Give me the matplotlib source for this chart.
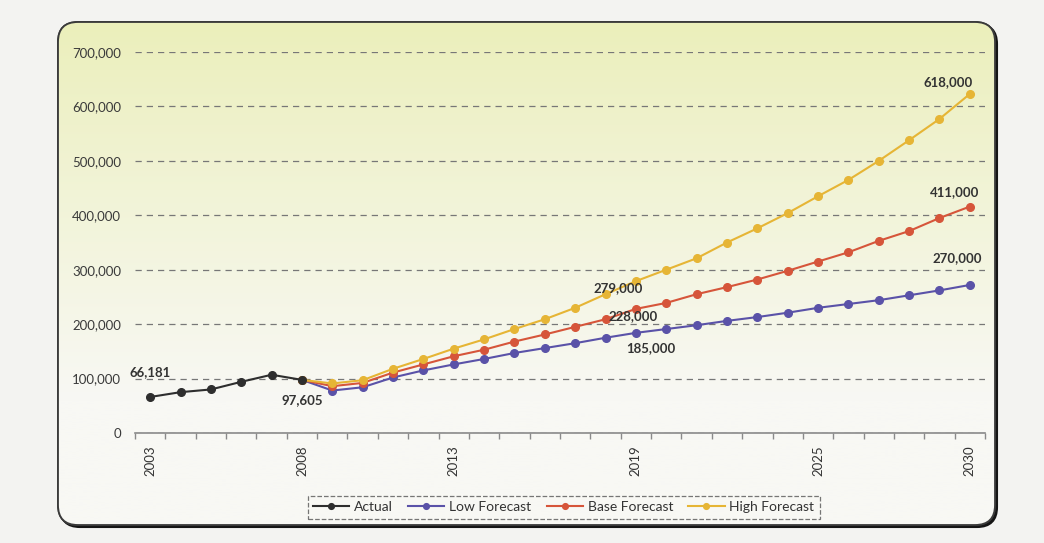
import matplotlib.pyplot as plt
import numpy as np
from matplotlib.patches import FancyBboxPatch

plt.rcParams['font.family'] = ['Lato', 'DejaVu Sans']

years = list(range(2003, 2031))
actual = [66181, 75000, 80000, 94000, 107000, 97605]
# forecasts 2009-2030, drawn on from the last actual point
low = [78000, 84000, 102000, 115000, 126000, 136000, 147000, 156000, 165000, 175000, 184000,
       191000, 198000, 206000, 213000, 221000, 230000, 237000, 244000, 253000, 262000, 272000]
base = [86000, 92000, 111000, 126000, 141000, 153000, 168000, 181000, 195000, 209000, 228000,
        239000, 255000, 268000, 282000, 298000, 315000, 332000, 353000, 371000, 395000, 416000]
high = [91000, 97000, 118000, 136000, 155000, 172000, 191000, 209000, 230000, 255000, 279000,
        300000, 321000, 350000, 376000, 404000, 435000, 465000, 500000, 538000, 577000, 623000]
labelled_years = [2003, 2008, 2013, 2019, 2025, 2030]

colors = {'Actual': '#2e2e2e', 'Low Forecast': '#5a52a8', 'Base Forecast': '#d6553a',
          'High Forecast': '#e6b535'}

fig = plt.figure(figsize=(10.44, 5.43), dpi=100)
fig.patch.set_facecolor('#f3f3f1')

# background panel with rounded border and gradient
bg = fig.add_axes([0, 0, 1, 1], zorder=0)
bg.set_xlim(0, 1044)
bg.set_ylim(543, 0)
bg.axis('off')
shadow = FancyBboxPatch((60, 24), 937, 503, boxstyle='round,pad=0,rounding_size=20',
                        fc='#151515', ec='#151515', lw=1.5)
bg.add_patch(shadow)
box = FancyBboxPatch((58, 22), 937, 503, boxstyle='round,pad=0,rounding_size=20',
                     fc='#f7f7f2', ec='#3a3a3a', lw=1.3)
bg.add_patch(box)
n = 200
t = np.clip(np.linspace(0, 1, n) / 0.75, 0, 1)[:, None] ** 0.9
top = np.array([235, 239, 186]) / 255
bot = np.array([248, 248, 244]) / 255
grad = (top * (1 - t) + bot * t)[:, None, :]
im = bg.imshow(grad, extent=(58, 995, 525, 22), aspect='auto', zorder=1)
im.set_clip_path(box)
box2 = FancyBboxPatch((58, 22), 937, 503, boxstyle='round,pad=0,rounding_size=20',
                      fc='none', ec='#3a3a3a', lw=1.3, zorder=2)
bg.add_patch(box2)

ax = fig.add_axes([0.1293, 0.2026, 0.8142, 0.7016], zorder=2)
ax.patch.set_alpha(0)

x = np.array(years) - 2003
xa = x[:6]
xf = x[5:]
handles = []
h, = ax.plot(xa, actual, color=colors['Actual'], marker='o', ms=5.5, lw=1.5, zorder=5, label='Actual')
handles.append(h)
for name, vals in [('Low Forecast', low), ('Base Forecast', base), ('High Forecast', high)]:
    h, = ax.plot(xf, [actual[-1]] + vals, color=colors[name], marker='o', ms=5.5, lw=1.5, label=name)
    handles.append(h)

ax.set_xlim(-0.5, 27.5)
ax.set_ylim(0, 700000)
ax.set_yticks(range(0, 700001, 100000))
ax.set_yticklabels([f'{v:,}' for v in range(0, 700001, 100000)])
ax.yaxis.grid(True, ls=(0, (5, 4)), color='#777777', lw=0.9)
ax.set_axisbelow(True)
for s in ['left', 'right', 'top']:
    ax.spines[s].set_visible(False)
ax.spines['bottom'].set_color('#8a8a8a')
ax.spines['bottom'].set_linewidth(1.2)

ax.set_xticks([y - 2003 for y in labelled_years])
ax.set_xticklabels([str(y) for y in labelled_years], rotation=90)
ax.set_xticks(np.arange(-0.5, 28, 1), minor=True)
ax.tick_params(axis='x', which='major', length=0, pad=9, labelsize=9.5, labelcolor='#333333')
ax.tick_params(axis='x', which='minor', length=4, color='#8a8a8a', width=1)
ax.tick_params(axis='y', length=0, pad=10, labelsize=9.5, labelcolor='#3a3a3a')

lab = dict(fontsize=9.5, fontweight='bold', color='#333333', ha='center', va='center')
ax.text(0, 111000, '66,181', **lab)
ax.text(5, 60000, '97,605', **lab)
ax.text(15.4, 266000, '279,000', **lab)
ax.text(15.9, 214000, '228,000', **lab)
ax.text(16.5, 156000, '185,000', **lab)
ax.text(26.6, 322000, '270,000', **lab)
ax.text(26.5, 442000, '411,000', **lab)
ax.text(26.3, 644000, '618,000', **lab)

leg = fig.legend(handles=handles, loc='center', bbox_to_anchor=(0.54, 0.066), ncol=4,
                 frameon=True, fancybox=False, fontsize=10, handlelength=2.6,
                 handletextpad=0.35, columnspacing=1.1, borderpad=0.4, markerscale=0.75)
fr = leg.get_frame()
fr.set_facecolor('none')
fr.set_edgecolor('#555555')
fr.set_linestyle('--')
fr.set_linewidth(0.9)
for t_ in leg.get_texts():
    t_.set_color('#333333')

fig.savefig('out.png', dpi=100, facecolor=fig.get_facecolor())
